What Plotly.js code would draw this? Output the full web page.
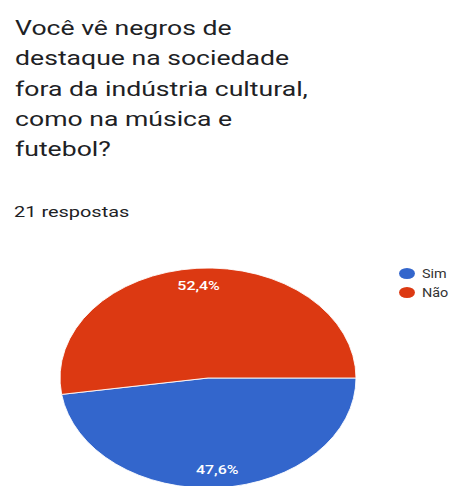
<!DOCTYPE html>
<html><head><meta charset="utf-8">
<script src="https://cdn.plot.ly/plotly-3.0.1.min.js"></script>
<style>html,body{margin:0;padding:0;overflow:hidden;background:#fff;width:455px;height:486px}</style>
</head><body><div id="chart" style="width:455px;height:560px"></div>
<script>
const titleLines = ['Você vê negros de', 'destaque na sociedade', 'fora da indústria cultural,', 'como na música e', 'futebol?'];
const subtitle = '21 respostas';
const categories = ['Sim', 'Não'];
const counts = [10, 11];
const colors = ['#3366cc', '#dc3912'];

const W = 455, H = 560;
const FONT = 'Roboto, Arial, sans-serif';
const pieCx = 208, pieCy = 378, pieRx = 148, pieRy = 110;
const labelR = 0.84;
const STRETCH = 1.33;

const annotations = titleLines.map((t, i) => ({
  text: t, xref: 'paper', yref: 'paper', x: 13 / W, y: 1 - (28 + i * 30.3) / H,
  xanchor: 'left', yanchor: 'middle', showarrow: false,
  font: {family: FONT, size: 20, color: '#202124'}
}));
annotations.push({
  text: subtitle, xref: 'paper', yref: 'paper', x: 12 / W, y: 1 - 212 / H,
  xanchor: 'left', yanchor: 'middle', showarrow: false,
  font: {family: FONT, size: 15, color: '#202124'}
});

const pie = {
  type: 'pie', labels: categories, values: counts, sort: false,
  direction: 'clockwise', rotation: 90, showlegend: false,
  marker: {colors: colors, line: {color: '#ffffff', width: 1}},
  textinfo: 'percent', textposition: 'inside', insidetextorientation: 'horizontal',
  insidetextfont: {family: FONT, size: 12, color: '#ffffff', weight: 500},
  domain: {x: [(pieCx - pieRx) / W, (pieCx + pieRx) / W], y: [1 - (pieCy + pieRx) / H, 1 - (pieCy - pieRx) / H]},
  hoverinfo: 'skip'
};
const legendTraces = categories.map((c, i) => ({
  type: 'scatter', mode: 'markers', x: [null], y: [null], name: c,
  marker: {color: colors[i], size: 11, symbol: 'circle'}, hoverinfo: 'skip'
}));

const layout = {
  width: W, height: H, margin: {l: 0, r: 0, t: 0, b: 0},
  paper_bgcolor: '#ffffff', plot_bgcolor: '#ffffff',
  separators: ',.',
  xaxis: {visible: false}, yaxis: {visible: false},
  showlegend: true,
  legend: {x: 382 / W, y: 1 - 259 / H, xanchor: 'left', yanchor: 'top', bgcolor: 'rgba(0,0,0,0)',
    font: {family: FONT, size: 12, color: '#333333'}},
  annotations: annotations
};

const SVGNS = 'http://www.w3.org/2000/svg';
function stretch(el, s, anchor, dx) {
  const parent = el.parentNode;
  const g = document.createElementNS(SVGNS, 'g');
  parent.insertBefore(g, el);
  g.appendChild(el);
  const r = el.getBoundingClientRect();
  const ctm = g.getScreenCTM();
  const x0 = (anchor === 'left' ? r.left : r.left + r.width / 2) - ctm.e;
  g.setAttribute('transform', `translate(${x0 + (dx || 0)},0) scale(${s},1) translate(${-x0},0)`);
}

const gd = document.getElementById('chart');
Plotly.newPlot(gd, [pie].concat(legendTraces), layout, {staticPlot: true, displayModeBar: false}).then(() => {
  const cd0 = gd.calcdata[0][0];
  const cx = (cd0 && cd0.cx) || pieCx;
  const cy = (cd0 && cd0.cy) || pieCy;
  const k = pieRy / pieRx;
  gd.querySelectorAll('.pielayer g.slice path.surface').forEach(p => {
    p.setAttribute('transform', `translate(0,${cy}) scale(1,${k}) translate(0,${-cy})`);
  });
  const total = counts.reduce((a, b) => a + b, 0);
  let start = 90;
  gd.querySelectorAll('.pielayer g.slice').forEach((s, i) => {
    const frac = counts[i] / total;
    const mid = (start + frac * 180) * Math.PI / 180;
    start += frac * 360;
    const tx = cx + pieRx * labelR * Math.sin(mid);
    const ty = cy - pieRy * labelR * Math.cos(mid);
    const t = s.querySelector('text.slicetext');
    if (t) {
      t.removeAttribute('transform');
      const bb = t.getBBox();
      t.setAttribute('transform', `translate(${tx},${ty}) scale(${STRETCH},1) translate(${-(bb.x + bb.width / 2)},${-(bb.y + bb.height / 2)})`);
    }
  });
  gd.querySelectorAll('text.annotation-text').forEach(t => stretch(t, STRETCH, 'left', 0));
  gd.querySelectorAll('.legend text.legendtext').forEach(t => stretch(t, 1.2, 'left', 0));
  gd.querySelectorAll('.legend .legendpoints path').forEach(p => stretch(p, 1.45, 'center', 5));
});
</script></body></html>
